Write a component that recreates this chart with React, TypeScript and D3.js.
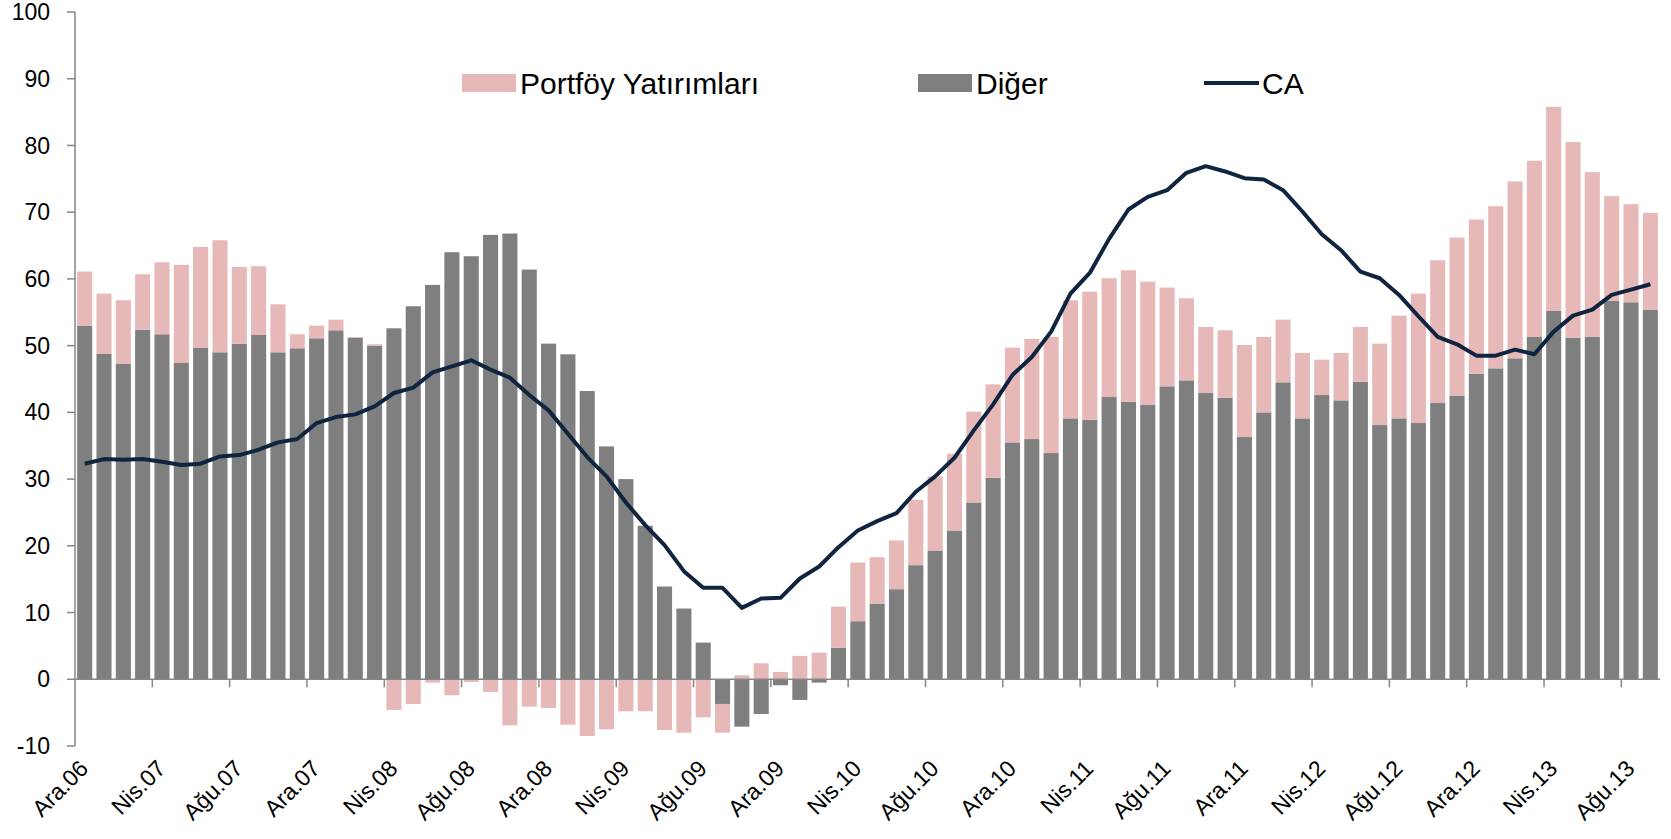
import React, { useRef, useEffect } from "react";
import * as d3 from "d3";

// Turkish month abbreviations, series starts at Ara.06 (Dec 2006)
const monthNames = ["Oca", "Şub", "Mar", "Nis", "May", "Haz", "Tem", "Ağu", "Eyl", "Eki", "Kas", "Ara"];
const categories: string[] = [];
for (let i = 0; i < 82; i++) {
  const m = (11 + i) % 12;
  const y = 6 + Math.floor((11 + i) / 12);
  categories.push(`${monthNames[m]}.${String(y).padStart(2, "0")}`);
}

const diger = [
  53.0, 48.8, 47.3, 52.4, 51.7, 47.4, 49.7, 49.0, 50.3, 51.6,
  49.0, 49.6, 51.1, 52.3, 51.2, 50.0, 52.6, 55.9, 59.1, 64.0,
  63.4, 66.6, 66.8, 61.4, 50.3, 48.7, 43.2, 34.9, 30.0, 23.0,
  13.9, 10.6, 5.5, -3.7, -7.1, -5.2, -0.9, -3.1, -0.5, 4.7,
  8.7, 11.3, 13.5, 17.1, 19.3, 22.3, 26.5, 30.2, 35.5, 36.0,
  33.9, 39.1, 38.9, 42.3, 41.6, 41.1, 43.9, 44.8, 42.9, 42.2,
  36.3, 40.0, 44.5, 39.1, 42.6, 41.8, 44.6, 38.1, 39.1, 38.4,
  41.4, 42.5, 45.8, 46.6, 48.1, 51.3, 55.2, 51.2, 51.3, 56.7,
  56.5, 55.4,
];

const portfoy = [
  8.1, 9.0, 9.5, 8.3, 10.8, 14.7, 15.1, 16.8, 11.5, 10.3,
  7.2, 2.1, 1.9, 1.6, 0.1, 0.2, -4.6, -3.7, -0.5, -2.4,
  -0.4, -1.9, -6.9, -4.1, -4.3, -6.8, -8.5, -7.5, -4.8, -4.8,
  -7.6, -8.0, -5.7, -4.3, 0.6, 2.4, 1.1, 3.5, 4.0, 6.2,
  8.8, 7.0, 7.3, 9.8, 11.1, 11.5, 13.6, 14.0, 14.2, 15.0,
  17.4, 17.7, 19.2, 17.8, 19.7, 18.5, 14.8, 12.3, 9.9, 10.1,
  13.8, 11.3, 9.4, 9.8, 5.3, 7.1, 8.2, 12.2, 15.4, 19.4,
  21.4, 23.7, 23.1, 24.3, 26.5, 26.4, 30.6, 29.3, 24.7, 15.7,
  14.7, 14.5,
];

const ca = [
  32.3, 33.0, 32.9, 33.0, 32.6, 32.1, 32.3, 33.4, 33.6, 34.4,
  35.5, 36.0, 38.4, 39.3, 39.7, 40.9, 42.9, 43.7, 46.0, 46.9,
  47.8, 46.4, 45.2, 42.6, 40.3, 36.8, 33.3, 30.4, 26.5, 23.1,
  20.1, 16.2, 13.7, 13.7, 10.7, 12.1, 12.2, 15.1, 16.9, 19.8,
  22.3, 23.7, 24.9, 28.1, 30.4, 33.2, 37.3, 41.2, 45.6, 48.3,
  52.1, 57.8, 60.9, 66.0, 70.4, 72.3, 73.3, 75.9, 76.9, 76.1,
  75.1, 74.9, 73.3, 70.1, 66.7, 64.3, 61.1, 60.1, 57.6, 54.4,
  51.3, 50.2, 48.5, 48.5, 49.4, 48.7, 52.1, 54.5, 55.4, 57.6,
  58.4, 59.2,
];

const yTicks = [-10, 0, 10, 20, 30, 40, 50, 60, 70, 80, 90, 100];

const legendItems = [
  { label: "Portföy Yatırımları", color: "#E6B9B8", type: "rect", x: 462 },
  { label: "Diğer", color: "#7F7F7F", type: "rect", x: 918 },
  { label: "CA", color: "#0F243E", type: "line", x: 1204 },
];

const FONT = "'Liberation Sans', Arial, sans-serif";

function App() {
  const svgRef = useRef<SVGSVGElement>(null);

  useEffect(() => {
    const svg = d3.select(svgRef.current);
    svg.selectAll("*").remove();

    const left = 75;
    const right = 1660;
    const top = 12;
    const bottom = 746;

    const x = d3
      .scaleBand<string>()
      .domain(categories)
      .range([left, right])
      .paddingInner(0.22)
      .paddingOuter(0.11);
    const step = x.step();
    const y = d3.scaleLinear().domain([-10, 100]).range([bottom, top]);

    const rows = categories.map((c, i) => ({ cat: c, diger: diger[i], portfoy: portfoy[i] }));
    const series = d3
      .stack<any>()
      .keys(["diger", "portfoy"])
      .offset(d3.stackOffsetDiverging)(rows);
    const colors: Record<string, string> = { diger: "#7F7F7F", portfoy: "#E6B9B8" };

    // bars
    series.forEach((s) => {
      svg
        .append("g")
        .selectAll("rect")
        .data(s)
        .enter()
        .append("rect")
        .attr("x", (d: any) => x(d.data.cat)!)
        .attr("width", x.bandwidth())
        .attr("y", (d) => y(Math.max(d[0], d[1])))
        .attr("height", (d) => Math.abs(y(d[0]) - y(d[1])))
        .attr("fill", colors[s.key]);
    });

    // y axis
    const axisColor = "#868686";
    svg
      .append("line")
      .attr("x1", left)
      .attr("x2", left)
      .attr("y1", y(100))
      .attr("y2", y(-10))
      .attr("stroke", axisColor)
      .attr("stroke-width", 1.5);

    yTicks.forEach((t) => {
      svg
        .append("line")
        .attr("x1", left - 8)
        .attr("x2", left)
        .attr("y1", y(t))
        .attr("y2", y(t))
        .attr("stroke", axisColor)
        .attr("stroke-width", 1.5);
      svg
        .append("text")
        .attr("x", 50)
        .attr("y", y(t))
        .attr("dy", "0.35em")
        .attr("text-anchor", "end")
        .attr("font-family", FONT)
        .attr("font-size", 23)
        .attr("fill", "#000")
        .text(t);
    });

    // x axis at zero
    svg
      .append("line")
      .attr("x1", left)
      .attr("x2", right)
      .attr("y1", y(0))
      .attr("y2", y(0))
      .attr("stroke", axisColor)
      .attr("stroke-width", 1.5);

    categories.forEach((c, i) => {
      if (i % 4 !== 0) return;
      if (i > 0) {
        const tx = x(c)! - step * 0.11;
        svg
          .append("line")
          .attr("x1", tx)
          .attr("x2", tx)
          .attr("y1", y(0))
          .attr("y2", y(0) + 8)
          .attr("stroke", axisColor)
          .attr("stroke-width", 1.5);
      }
      const cx = x(c)! + x.bandwidth() / 2;
      svg
        .append("text")
        .attr("transform", `translate(${cx + 5}, ${bottom + 24}) rotate(-45)`)
        .attr("text-anchor", "end")
        .attr("font-family", FONT)
        .attr("font-size", 23)
        .attr("fill", "#000")
        .text(c);
    });

    // CA line
    const line = d3
      .line<number>()
      .x((_, i) => x(categories[i])! + x.bandwidth() / 2)
      .y((d) => y(d));
    svg
      .append("path")
      .datum(ca)
      .attr("d", line)
      .attr("fill", "none")
      .attr("stroke", "#0F243E")
      .attr("stroke-width", 4)
      .attr("stroke-linejoin", "round");

    // legend
    const ly = 83;
    legendItems.forEach((item) => {
      if (item.type === "rect") {
        svg
          .append("rect")
          .attr("x", item.x)
          .attr("y", ly - 9)
          .attr("width", 54)
          .attr("height", 18)
          .attr("fill", item.color);
      } else {
        svg
          .append("line")
          .attr("x1", item.x)
          .attr("x2", item.x + 55)
          .attr("y1", ly)
          .attr("y2", ly)
          .attr("stroke", item.color)
          .attr("stroke-width", 4);
      }
      svg
        .append("text")
        .attr("x", item.x + 58)
        .attr("y", ly)
        .attr("dy", "0.36em")
        .attr("font-family", FONT)
        .attr("font-size", 30)
        .attr("fill", "#000")
        .text(item.label);
    });
  }, []);

  return (
    <svg
      ref={svgRef}
      width={1671}
      height={839}
      style={{ position: "absolute", left: 0, top: 0, background: "#fff" }}
    />
  );
}

export default App;
